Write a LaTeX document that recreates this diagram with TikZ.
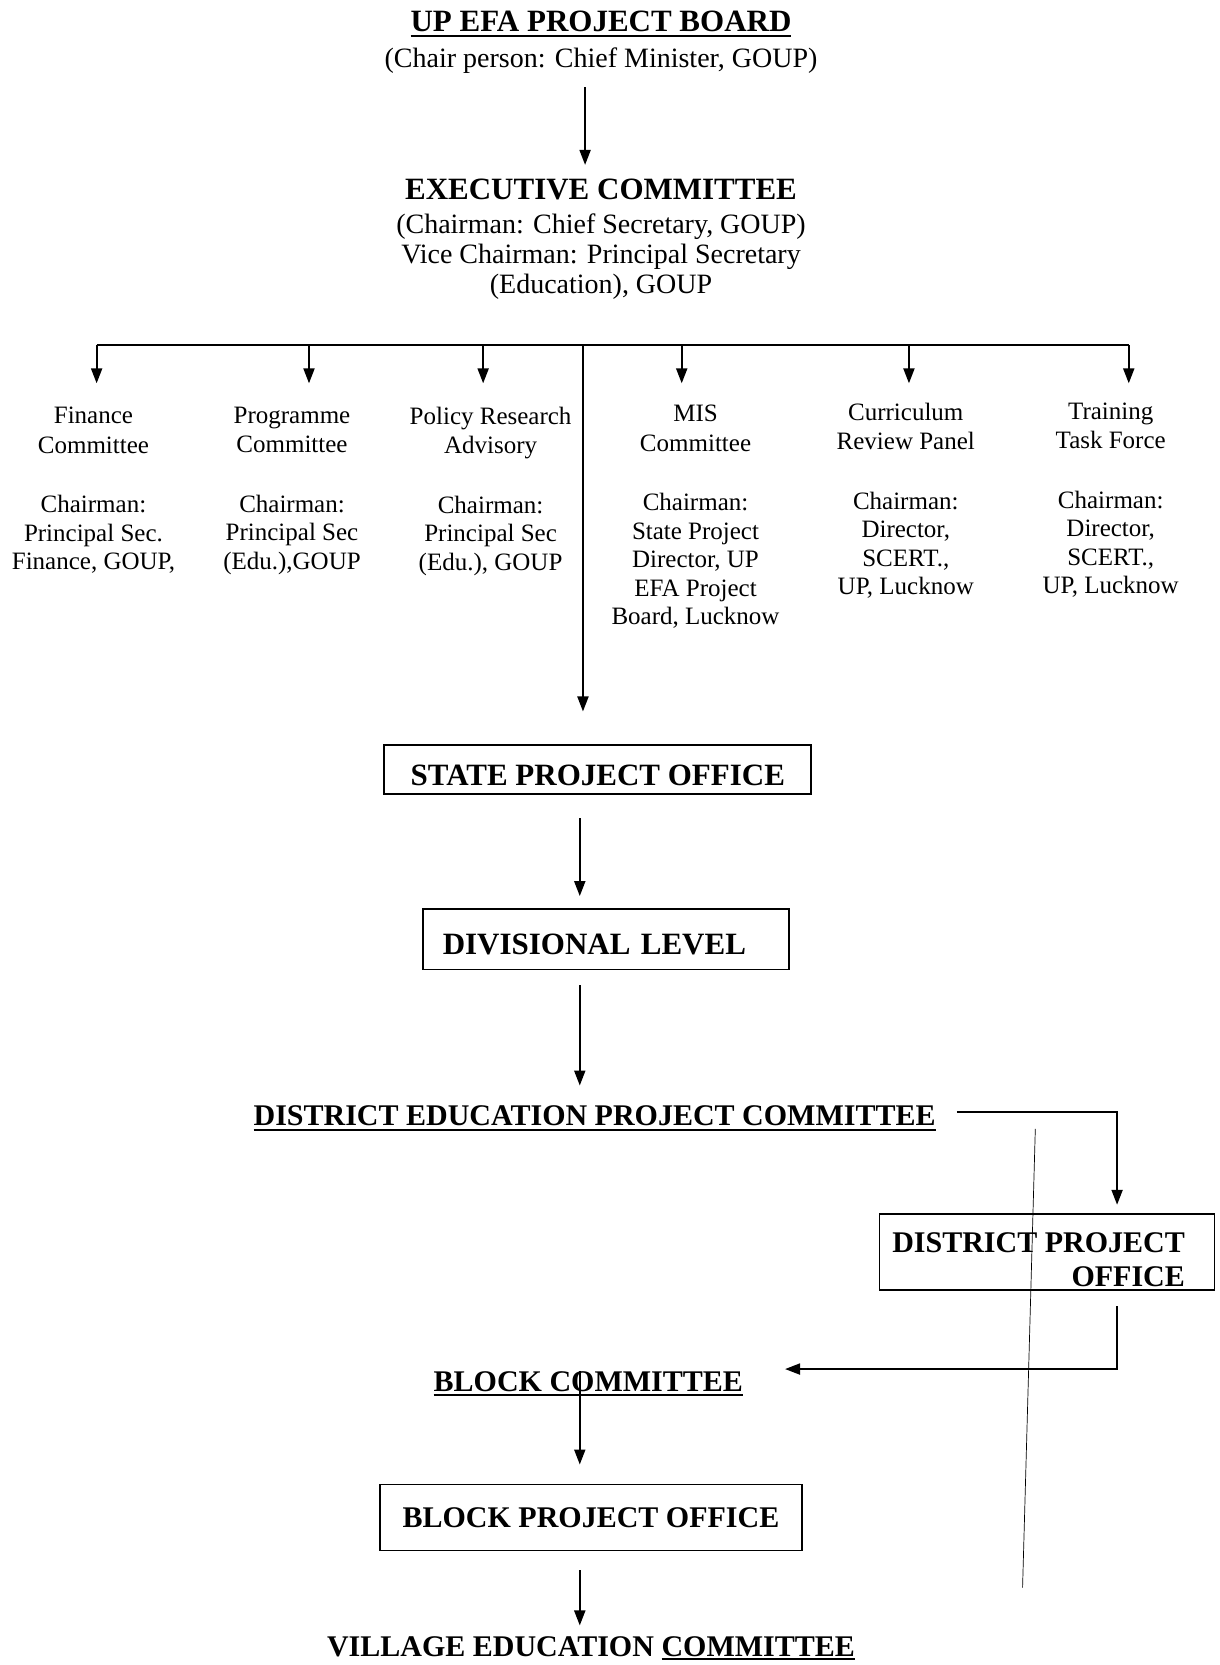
\documentclass[tikz,border=0pt]{standalone}
\usepackage{fontspec}
\setmainfont{Liberation Serif}
\usetikzlibrary{arrows.meta}
\newcommand{\barunder}[2]{\setbox0=\hbox{#2}\rlap{\rule[-#1]{\wd0}{1.8pt}}\box0}

\tikzset{
  arr/.style={line width=2pt, -{Triangle[length=15pt,width=11pt]}},
  link/.style={line width=2pt},
  head/.style={font=\fontsize{31}{36}\selectfont\bfseries, inner sep=0pt, anchor=base},
  plain/.style={font=\fontsize{28}{30.3}\selectfont, inner sep=0pt, align=center},
  col/.style={font=\fontsize{25}{28.5}\selectfont, inner sep=0pt, align=center, anchor=north},
  office/.style={draw, line width=1.8pt, font=\fontsize{31}{36}\selectfont\bfseries, inner sep=0pt, text height=31pt, text depth=0pt},
  lowhead/.style={font=\fontsize{30}{34}\selectfont\bfseries, inner sep=0pt, anchor=base},
  lowbox/.style={draw, line width=1.8pt, font=\fontsize{30}{34}\selectfont\bfseries, inner sep=0pt},
}

\begin{document}
\begin{tikzpicture}[x=1.0619pt, y=-1.0619pt]
  \useasboundingbox (0,0) rectangle (1148,1568);

  %%%%% TOP %%%%%
  \node[head] (board) at (566,30) {\barunder{5pt}{UP EFA PROJECT BOARD}};
  \node[plain, anchor=base] (boardsub) at (566,64) {(Chair person: Chief Minister, GOUP)};
  \node[head] (exec) at (566,188) {EXECUTIVE COMMITTEE};
  \node[plain, anchor=north] (execsub) at (566,201) {(Chairman: Chief Secretary, GOUP)\\Vice Chairman: Principal Secretary\\(Education), GOUP};

  \coordinate (boardout) at (551,82);
  \draw[arr, shorten >=14pt] (boardout) -- (boardout |- exec.north);

  %%%%% COMMITTEES %%%%%
  \node[col] (fin) at (88,383) {Finance\\[1.2pt]Committee\\[31pt]Chairman:\\Principal Sec.\\Finance, GOUP,};
  \node[col] (prog) at (275,383) {Programme\\[1.2pt]Committee\\[31pt]Chairman:\\Principal Sec\\(Edu.),GOUP};
  \node[col] (pol) at (462,383) {Policy Research\\[1.2pt]Advisory\\[31pt]Chairman:\\Principal Sec\\(Edu.), GOUP};
  \node[col] (mis) at (655,381) {MIS\\[1.2pt]Committee\\[31pt]Chairman:\\State Project\\Director, UP\\EFA Project\\Board, Lucknow};
  \node[col] (cur) at (853,379) {Curriculum\\[1.2pt]Review Panel\\[31pt]Chairman:\\Director,\\SCERT.,\\UP, Lucknow};
  \node[col] (trn) at (1046,379) {Training\\[1.2pt]Task Force\\[31pt]Chairman:\\Director,\\SCERT.,\\UP, Lucknow};

  \coordinate (bus) at (549,325);
  \foreach \n/\x in {fin/91, prog/291, pol/455, mis/642, cur/856, trn/1063}
    \coordinate (tip\n) at (\x,361);
  \draw[link] (tipfin |- bus) -- (tiptrn |- bus);
  \foreach \n in {fin,prog,pol,mis,cur,trn}
    \draw[arr] (tip\n |- bus) -- (tip\n);

  %%%%% OFFICES %%%%%
  \node[office, minimum width=427pt, minimum height=49pt] (spo) at (563,725) {STATE PROJECT OFFICE};
  \node[office, minimum width=366pt, minimum height=60.5pt, text width=326pt, align=left] (div) at (570.5,884.5) {DIVISIONAL LEVEL};
  \node[lowhead] (dep) at (560,1060) {\barunder{5pt}{DISTRICT EDUCATION PROJECT COMMITTEE}};
  \node[lowbox, minimum width=335pt, minimum height=76.5pt] (dpo) at (986,1179) {};
  \node[lowhead, align=right, anchor=south east] (dpotext) at (1116,1212) {DISTRICT PROJECT\\OFFICE};
  \node[lowhead] (blk) at (554,1310) {\barunder{5pt}{BLOCK COMMITTEE}};
  \node[lowbox, minimum width=421.6pt, minimum height=66pt] (bpo) at (556.5,1429) {BLOCK PROJECT OFFICE};
  \node[lowhead] (vil) at (556.5,1560) {VILLAGE EDUCATION \barunder{3.5pt}{COMMITTEE}};

  \draw[arr, shorten >=33pt] (bus) -- (bus |- spo.north);

  \coordinate (spine) at (546,0);
  \coordinate (dpx) at (1052,0);
  \draw[arr, shorten <=23pt, shorten >=12pt] (spine |- spo.south) -- (spine |- div.north);
  \draw[arr, shorten <=15pt, shorten >=20pt] (spine |- div.south) -- (spine |- dep.north);
  \draw[arr, shorten >=8pt] ([shift={(21pt,14pt)}]dep.base east) -| (dpx |- dpo.north);
  \draw[arr, shorten <=15pt] (dpx |- dpo.south) |- ([shift={(42pt,22pt)}]blk.base east);
  \draw[arr, shorten >=19pt] (spine |- blk.north) -- (spine |- bpo.north);
  \draw[arr, shorten <=19pt, shorten >=11pt] (spine |- bpo.south) -- (spine |- vil.north);

  % fold line across the lower right
  \draw[line width=0.7pt] (975,1063) -- (963,1495);
\end{tikzpicture}
\end{document}
